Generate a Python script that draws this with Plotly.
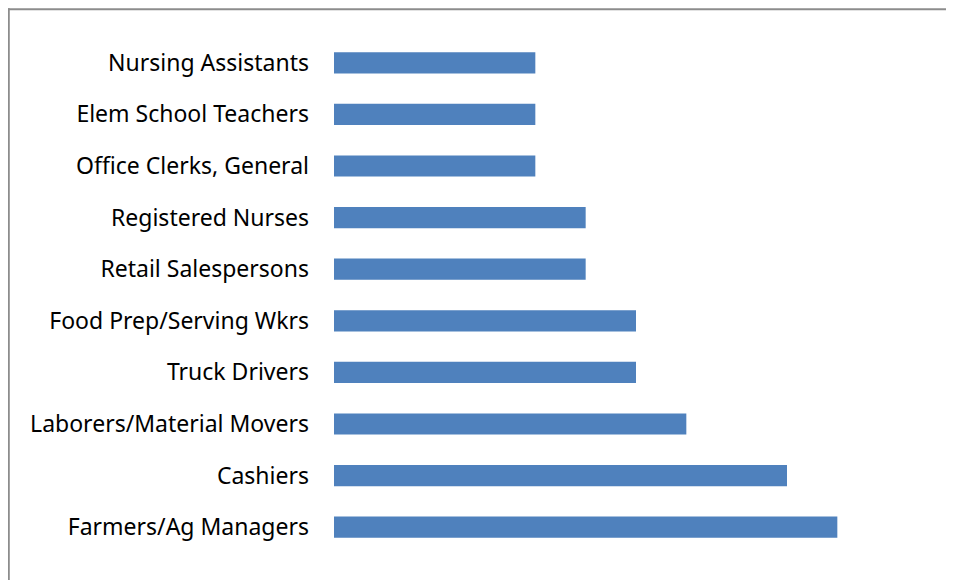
import plotly.graph_objects as go

categories = ["Farmers/Ag Managers", "Cashiers", "Laborers/Material Movers", "Truck Drivers",
              "Food Prep/Serving Wkrs", "Retail Salespersons", "Registered Nurses",
              "Office Clerks, General", "Elem School Teachers", "Nursing Assistants"]
values = [10, 9, 7, 6, 6, 5, 5, 4, 4, 4]

# page has an 8px body margin; figure is offset by (8, 8)
OFF = 8
W, H = 954, 580
ml, mr, mt, mb = 334 - OFF, 24.4, 36.7 - OFF, 34.7
pw, ph = W - ml - mr, H - mt - mb

fig = go.Figure(go.Bar(
    x=values, y=categories, orientation="h",
    marker=dict(color="#4f81bd", line=dict(width=0)),
    hoverinfo="x+y",
))

def fx(p):
    # figure pixel -> paper x
    return (p - ml) / pw

def fy(p):
    # figure pixel (from top) -> paper y
    return (H - mb - p) / ph

fig.update_layout(
    width=W, height=H,
    margin=dict(l=ml, r=mr, t=mt, b=mb, autoexpand=False),
    paper_bgcolor="white", plot_bgcolor="white",
    bargap=0.59,
    showlegend=False,
    font=dict(family="Noto Sans, Open Sans, sans-serif", size=23, color="#000000"),
    xaxis=dict(range=[0, 12], visible=False, fixedrange=True),
    yaxis=dict(showgrid=False, zeroline=False, showline=False, ticks="",
               ticklabelstandoff=24, tickfont=dict(size=23, color="#000000")),
    shapes=[
        dict(type="line", xref="paper", yref="paper",
             x0=fx(0), x1=fx(980), y0=fy(1), y1=fy(1),
             line=dict(color="#8c8c8c", width=2)),
        dict(type="line", xref="paper", yref="paper",
             x0=fx(1), x1=fx(1), y0=fy(0), y1=fy(600),
             line=dict(color="#8c8c8c", width=2)),
    ],
)

fig.write_html("out.html")
